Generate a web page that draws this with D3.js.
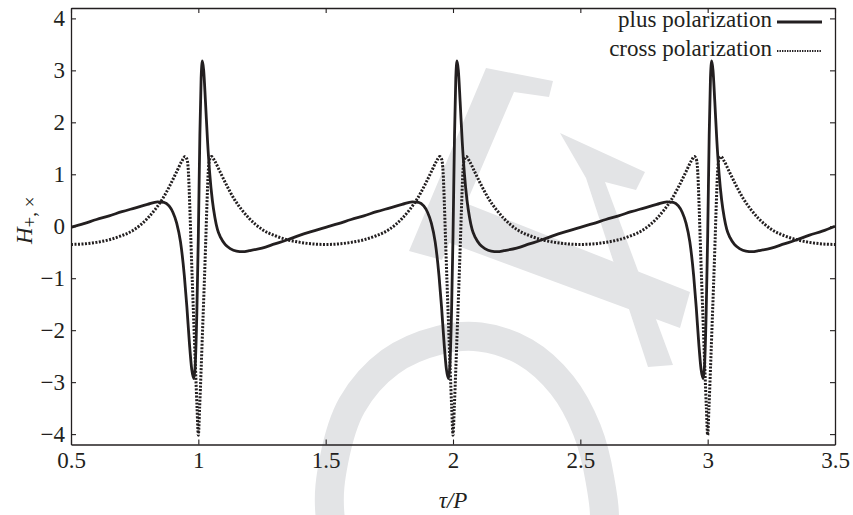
<!DOCTYPE html>
<html>
<head>
<meta charset="utf-8">
<script src="https://cdn.jsdelivr.net/npm/d3@7"></script>
<style>
  body { margin: 0; background: #fff; }
  svg { display: block; }
  text { font-family: "Liberation Serif", "Times New Roman", serif; fill: #231f20; }
</style>
</head>
<body>
<div id="chart"></div>
<script>
// tau/P sample points and waveform values
const tauPlus = [
  0.50, 0.55, 0.60, 0.65, 0.70, 0.75, 0.80, 0.84, 0.865, 0.885, 0.90, 0.915, 0.93, 0.945, 0.955, 0.965, 0.974, 0.982, 0.988, 0.994,
  1.000, 1.006, 1.011, 1.016, 1.021, 1.028, 1.036, 1.045, 1.055, 1.065, 1.075, 1.088, 1.105, 1.125, 1.15, 1.175, 1.20, 1.25, 1.30, 1.35, 1.40, 1.45,
  1.50, 1.55, 1.60, 1.65, 1.70, 1.75, 1.80, 1.84, 1.865, 1.885, 1.90, 1.915, 1.93, 1.945, 1.955, 1.965, 1.974, 1.982, 1.988, 1.994,
  2.000, 2.006, 2.011, 2.016, 2.021, 2.028, 2.036, 2.045, 2.055, 2.065, 2.075, 2.088, 2.105, 2.125, 2.15, 2.175, 2.20, 2.25, 2.30, 2.35, 2.40, 2.45,
  2.50, 2.55, 2.60, 2.65, 2.70, 2.75, 2.80, 2.84, 2.865, 2.885, 2.90, 2.915, 2.93, 2.945, 2.955, 2.965, 2.974, 2.982, 2.988, 2.994,
  3.000, 3.006, 3.011, 3.016, 3.021, 3.028, 3.036, 3.045, 3.055, 3.065, 3.075, 3.088, 3.105, 3.125, 3.15, 3.175, 3.20, 3.25, 3.30, 3.35, 3.40, 3.45,
  3.50
];
const hPlus = [
  -0.02, 0.05, 0.13, 0.20, 0.28, 0.35, 0.42, 0.47, 0.46, 0.39, 0.27, 0.06, -0.30, -0.95, -1.55, -2.25, -2.75, -2.93, -2.65, -1.70,
  -0.20, 1.75, 2.85, 3.18, 3.00, 2.40, 1.65, 1.00, 0.50, 0.17, -0.06, -0.22, -0.35, -0.43, -0.48, -0.49, -0.47, -0.42, -0.34, -0.26, -0.17, -0.095,
  -0.02, 0.05, 0.13, 0.20, 0.28, 0.35, 0.42, 0.47, 0.46, 0.39, 0.27, 0.06, -0.30, -0.95, -1.55, -2.25, -2.75, -2.93, -2.65, -1.70,
  -0.20, 1.75, 2.85, 3.18, 3.00, 2.40, 1.65, 1.00, 0.50, 0.17, -0.06, -0.22, -0.35, -0.43, -0.48, -0.49, -0.47, -0.42, -0.34, -0.26, -0.17, -0.095,
  -0.02, 0.05, 0.13, 0.20, 0.28, 0.35, 0.42, 0.47, 0.46, 0.39, 0.27, 0.06, -0.30, -0.95, -1.55, -2.25, -2.75, -2.93, -2.65, -1.70,
  -0.20, 1.75, 2.85, 3.18, 3.00, 2.40, 1.65, 1.00, 0.50, 0.17, -0.06, -0.22, -0.35, -0.43, -0.48, -0.49, -0.47, -0.42, -0.34, -0.26, -0.17, -0.095,
  0.00
];
const tauCross = [
  0.50, 0.55, 0.60, 0.65, 0.70, 0.75, 0.80, 0.83, 0.86, 0.89, 0.915, 0.935, 0.948, 0.956, 0.961, 0.966, 0.971, 0.977, 0.983, 0.989, 0.995,
  1.000, 1.005, 1.011, 1.017, 1.023, 1.029, 1.034, 1.039, 1.044, 1.052, 1.065, 1.085, 1.11, 1.14, 1.17, 1.20, 1.25, 1.30, 1.35, 1.40, 1.45,
  1.50, 1.55, 1.60, 1.65, 1.70, 1.75, 1.80, 1.83, 1.86, 1.89, 1.915, 1.935, 1.948, 1.956, 1.961, 1.966, 1.971, 1.977, 1.983, 1.989, 1.995,
  2.000, 2.005, 2.011, 2.017, 2.023, 2.029, 2.034, 2.039, 2.044, 2.052, 2.065, 2.085, 2.11, 2.14, 2.17, 2.20, 2.25, 2.30, 2.35, 2.40, 2.45,
  2.50, 2.55, 2.60, 2.65, 2.70, 2.75, 2.80, 2.83, 2.86, 2.89, 2.915, 2.935, 2.948, 2.956, 2.961, 2.966, 2.971, 2.977, 2.983, 2.989, 2.995,
  3.000, 3.005, 3.011, 3.017, 3.023, 3.029, 3.034, 3.039, 3.044, 3.052, 3.065, 3.085, 3.11, 3.14, 3.17, 3.20, 3.25, 3.30, 3.35, 3.40, 3.45,
  3.50
];
const hCross = [
  -0.35, -0.34, -0.31, -0.26, -0.18, -0.06, 0.15, 0.32, 0.53, 0.80, 1.05, 1.25, 1.34, 1.28, 1.05, 0.45, -0.30, -1.15, -1.95, -2.75, -3.50,
  -4.02, -3.50, -2.75, -1.95, -1.15, -0.30, 0.45, 1.05, 1.28, 1.34, 1.25, 1.05, 0.80, 0.53, 0.32, 0.15, -0.06, -0.18, -0.26, -0.31, -0.34,
  -0.35, -0.34, -0.31, -0.26, -0.18, -0.06, 0.15, 0.32, 0.53, 0.80, 1.05, 1.25, 1.34, 1.28, 1.05, 0.45, -0.30, -1.15, -1.95, -2.75, -3.50,
  -4.02, -3.50, -2.75, -1.95, -1.15, -0.30, 0.45, 1.05, 1.28, 1.34, 1.25, 1.05, 0.80, 0.53, 0.32, 0.15, -0.06, -0.18, -0.26, -0.31, -0.34,
  -0.35, -0.34, -0.31, -0.26, -0.18, -0.06, 0.15, 0.32, 0.53, 0.80, 1.05, 1.25, 1.34, 1.28, 1.05, 0.45, -0.30, -1.15, -1.95, -2.75, -3.50,
  -4.02, -3.50, -2.75, -1.95, -1.15, -0.30, 0.45, 1.05, 1.28, 1.34, 1.25, 1.05, 0.80, 0.53, 0.32, 0.15, -0.06, -0.18, -0.26, -0.31, -0.34,
  -0.35
];
const xTicks = [0.5, 1, 1.5, 2, 2.5, 3, 3.5];
const yTicks = [-4, -3, -2, -1, 0, 1, 2, 3, 4];
const seriesNames = ['plus polarization', 'cross polarization'];

const width = 853, height = 515;
const margin = {top: 8, right: 18, bottom: 70.5, left: 71};
const ink = '#231f20';
const fontSize = 23;

const svg = d3.select('#chart').append('svg')
  .attr('width', width)
  .attr('height', height);

// light grey watermark behind the plot
const wmGrey = '#e3e4e6';
const wm = svg.append('g').attr('fill', wmGrey).attr('stroke', 'none');
const poly = d3.line().curve(d3.curveLinearClosed);
wm.append('path').attr('d', poly([[486, 68], [553, 81], [549, 97], [514, 92], [442, 260], [409, 251]]));
wm.append('path').attr('d', poly([[440, 193], [690, 292], [680, 328], [420, 232]]));
wm.append('path').attr('d', poly([[560, 133], [645, 172], [636, 190], [605, 182], [673, 365], [648, 367], [586, 178]]));
wm.append('path')
  .attr('fill', 'none')
  .attr('stroke', wmGrey)
  .attr('stroke-width', 29)
  .attr('d', d3.line().curve(d3.curveCatmullRomClosed)([
    [330, 515], [334, 460], [352, 405], [390, 362], [440, 340], [480, 337], [525, 352],
    [562, 385], [587, 430], [600, 480], [604, 530], [580, 620], [470, 660], [360, 630]
  ]));

const x = d3.scaleLinear().domain([0.5, 3.5]).range([margin.left, width - margin.right]);
const y = d3.scaleLinear().domain([-4.2, 4.2]).range([height - margin.bottom, margin.top]);

svg.append('defs').append('clipPath').attr('id', 'plotclip')
  .append('rect')
  .attr('x', x(0.5)).attr('y', y(4.2))
  .attr('width', x(3.5) - x(0.5)).attr('height', y(-4.2) - y(4.2));

const line = d3.line()
  .x(d => x(d[0]))
  .y(d => y(d[1]))
  .curve(d3.curveMonotoneX);

const plusData = tauPlus.map((t, i) => [t, hPlus[i]]);
const crossData = tauCross.map((t, i) => [t, hCross[i]]);

const plot = svg.append('g').attr('clip-path', 'url(#plotclip)');
plot.append('path')
  .datum(crossData)
  .attr('fill', 'none')
  .attr('stroke', ink)
  .attr('stroke-width', 3)
  .attr('stroke-dasharray', '2,1.5')
  .attr('d', line);
plot.append('path')
  .datum(plusData)
  .attr('fill', 'none')
  .attr('stroke', ink)
  .attr('stroke-width', 2.8)
  .attr('stroke-linejoin', 'round')
  .attr('d', line);

// frame: four axes, ticks pointing inward
const fmt = d => String(d).replace('-', '\u2212');
const gx = svg.append('g')
  .attr('transform', `translate(0,${y(-4.2)})`)
  .call(d3.axisBottom(x).tickValues(xTicks).tickFormat(fmt).tickSizeInner(-5).tickSizeOuter(0).tickPadding(7.5));
const gxt = svg.append('g')
  .attr('transform', `translate(0,${y(4.2)})`)
  .call(d3.axisTop(x).tickValues(xTicks).tickFormat('').tickSizeInner(-5).tickSizeOuter(0));
const gy = svg.append('g')
  .attr('transform', `translate(${x(0.5)},0)`)
  .call(d3.axisLeft(y).tickValues(yTicks).tickFormat(fmt).tickSizeInner(-5).tickSizeOuter(0).tickPadding(6));
const gyr = svg.append('g')
  .attr('transform', `translate(${x(3.5)},0)`)
  .call(d3.axisRight(y).tickValues(yTicks).tickFormat('').tickSizeInner(-5).tickSizeOuter(0));

[gx, gxt, gy, gyr].forEach(g => {
  g.select('.domain').attr('stroke', ink).attr('stroke-width', 1.3);
  g.selectAll('.tick line').attr('stroke', ink).attr('stroke-width', 1.1);
  g.selectAll('text').attr('font-size', fontSize).attr('fill', ink)
    .attr('font-family', '"Liberation Serif", "Times New Roman", serif');
});

// axis titles
svg.append('text')
  .attr('x', (x(0.5) + x(3.5)) / 2)
  .attr('y', 508)
  .attr('text-anchor', 'middle')
  .attr('font-size', fontSize)
  .attr('font-style', 'italic')
  .text('\u03c4/P');

const ylab = svg.append('text')
  .attr('transform', `translate(32,${y(0) - 6}) rotate(-90)`)
  .attr('text-anchor', 'middle')
  .attr('font-size', fontSize);
ylab.append('tspan').attr('font-style', 'italic').text('H');
ylab.append('tspan').attr('font-size', 19).attr('dy', 4).text('+, \u00d7');

// legend, labels right-aligned with a short sample line
const legend = svg.append('g');
seriesNames.forEach((name, i) => {
  const by = 27 + i * 29;
  legend.append('text')
    .attr('x', 772)
    .attr('y', by)
    .attr('text-anchor', 'end')
    .attr('font-size', fontSize)
    .text(name);
  legend.append('line')
    .attr('x1', 777).attr('x2', 822)
    .attr('y1', by - 5).attr('y2', by - 5)
    .attr('stroke', ink)
    .attr('stroke-width', i === 0 ? 2.8 : 2.2)
    .attr('stroke-dasharray', i === 0 ? null : '1.4,1.1');
});
</script>
</body>
</html>
